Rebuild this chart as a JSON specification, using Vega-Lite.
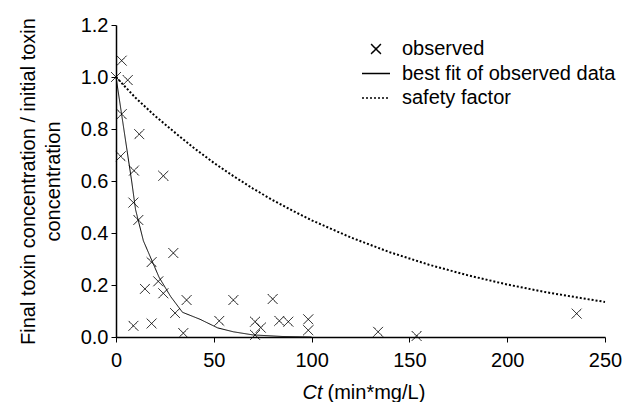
{
  "$schema": "https://vega.github.io/schema/vega-lite/v6.json",
  "width": 489,
  "height": 312,
  "autosize": {"type": "none"},
  "padding": {"left": 116, "top": 25, "right": 31, "bottom": 65},
  "background": "white",
  "config": {
    "view": {"stroke": null},
    "font": "Liberation Sans",
    "axis": {
      "grid": false,
      "domainColor": "black",
      "domainWidth": 1.5,
      "tickColor": "black",
      "tickSize": 5,
      "tickWidth": 1,
      "labelFont": "Liberation Sans",
      "labelFontSize": 20,
      "labelColor": "black",
      "titleFont": "Liberation Sans",
      "titleFontSize": 20,
      "titleFontWeight": "normal",
      "titleColor": "black"
    },
    "legend": {
      "orient": "none",
      "legendX": 250,
      "legendY": 14,
      "padding": 0,
      "labelFont": "Liberation Sans",
      "labelFontSize": 20,
      "labelColor": "black",
      "labelLimit": 0,
      "labelOffset": 16,
      "rowPadding": 4.5,
      "symbolSize": 196,
      "symbolStrokeColor": "black",
      "symbolFillColor": "transparent",
      "symbolStrokeWidth": 1.5
    }
  },
  "datasets": {
    "obs": [
      {"ct": 2.9, "ratio": 1.063, "series": "observed"},
      {"ct": 0, "ratio": 1.0, "series": "observed"},
      {"ct": 6, "ratio": 0.988, "series": "observed"},
      {"ct": 2.9, "ratio": 0.857, "series": "observed"},
      {"ct": 11.9, "ratio": 0.78, "series": "observed"},
      {"ct": 2.4, "ratio": 0.695, "series": "observed"},
      {"ct": 9.2, "ratio": 0.64, "series": "observed"},
      {"ct": 24.2, "ratio": 0.62, "series": "observed"},
      {"ct": 8.9, "ratio": 0.517, "series": "observed"},
      {"ct": 11.4, "ratio": 0.45, "series": "observed"},
      {"ct": 18.2, "ratio": 0.288, "series": "observed"},
      {"ct": 29.3, "ratio": 0.323, "series": "observed"},
      {"ct": 14.8, "ratio": 0.185, "series": "observed"},
      {"ct": 21.6, "ratio": 0.214, "series": "observed"},
      {"ct": 24.2, "ratio": 0.168, "series": "observed"},
      {"ct": 30.2, "ratio": 0.092, "series": "observed"},
      {"ct": 8.9, "ratio": 0.043, "series": "observed"},
      {"ct": 18.2, "ratio": 0.052, "series": "observed"},
      {"ct": 34.4, "ratio": 0.015, "series": "observed"},
      {"ct": 36.1, "ratio": 0.142, "series": "observed"},
      {"ct": 60, "ratio": 0.142, "series": "observed"},
      {"ct": 52.8, "ratio": 0.062, "series": "observed"},
      {"ct": 80.1, "ratio": 0.146, "series": "observed"},
      {"ct": 71.1, "ratio": 0.059, "series": "observed"},
      {"ct": 74, "ratio": 0.036, "series": "observed"},
      {"ct": 71.1, "ratio": 0.008, "series": "observed"},
      {"ct": 83.5, "ratio": 0.062, "series": "observed"},
      {"ct": 88.1, "ratio": 0.059, "series": "observed"},
      {"ct": 98.3, "ratio": 0.068, "series": "observed"},
      {"ct": 98.3, "ratio": 0.026, "series": "observed"},
      {"ct": 134, "ratio": 0.02, "series": "observed"},
      {"ct": 153.7, "ratio": 0.004, "series": "observed"},
      {"ct": 235.5, "ratio": 0.09, "series": "observed"}
    ],
    "fit": [
      {"ct": 0, "ratio": 1.0, "series": "best fit of observed data"},
      {"ct": 3, "ratio": 0.85, "series": "best fit of observed data"},
      {"ct": 6, "ratio": 0.7, "series": "best fit of observed data"},
      {"ct": 8, "ratio": 0.6, "series": "best fit of observed data"},
      {"ct": 10, "ratio": 0.49, "series": "best fit of observed data"},
      {"ct": 14, "ratio": 0.37, "series": "best fit of observed data"},
      {"ct": 18, "ratio": 0.3, "series": "best fit of observed data"},
      {"ct": 22, "ratio": 0.23, "series": "best fit of observed data"},
      {"ct": 28, "ratio": 0.155, "series": "best fit of observed data"},
      {"ct": 34, "ratio": 0.095, "series": "best fit of observed data"},
      {"ct": 43, "ratio": 0.068, "series": "best fit of observed data"},
      {"ct": 52, "ratio": 0.035, "series": "best fit of observed data"},
      {"ct": 60, "ratio": 0.02, "series": "best fit of observed data"},
      {"ct": 70, "ratio": 0.008, "series": "best fit of observed data"},
      {"ct": 85, "ratio": 0.002, "series": "best fit of observed data"},
      {"ct": 100, "ratio": 0.0, "series": "best fit of observed data"}
    ],
    "safety": [
      {"ct": 0, "ratio": 1.0, "series": "safety factor"},
      {"ct": 10, "ratio": 0.92, "series": "safety factor"},
      {"ct": 20, "ratio": 0.85, "series": "safety factor"},
      {"ct": 30, "ratio": 0.787, "series": "safety factor"},
      {"ct": 40, "ratio": 0.726, "series": "safety factor"},
      {"ct": 50, "ratio": 0.67, "series": "safety factor"},
      {"ct": 60, "ratio": 0.619, "series": "safety factor"},
      {"ct": 70, "ratio": 0.571, "series": "safety factor"},
      {"ct": 80, "ratio": 0.527, "series": "safety factor"},
      {"ct": 90, "ratio": 0.487, "series": "safety factor"},
      {"ct": 100, "ratio": 0.449, "series": "safety factor"},
      {"ct": 120, "ratio": 0.383, "series": "safety factor"},
      {"ct": 140, "ratio": 0.326, "series": "safety factor"},
      {"ct": 160, "ratio": 0.278, "series": "safety factor"},
      {"ct": 180, "ratio": 0.237, "series": "safety factor"},
      {"ct": 200, "ratio": 0.202, "series": "safety factor"},
      {"ct": 220, "ratio": 0.172, "series": "safety factor"},
      {"ct": 240, "ratio": 0.147, "series": "safety factor"},
      {"ct": 250, "ratio": 0.135, "series": "safety factor"}
    ]
  },
  "resolve": {"axis": {"x": "independent"}},
  "layer": [
    {
      "data": {"name": "safety"},
      "mark": {"type": "line", "color": "black", "strokeWidth": 2},
      "encoding": {
        "x": {
          "field": "ct", "type": "quantitative",
          "scale": {"domain": [0, 250], "nice": false, "zero": true},
          "axis": {
            "orient": "bottom",
            "values": [0, 50, 100, 150, 200, 250],
            "labelPadding": 8,
            "labelFlush": false,
            "title": "Ct",
            "titleFontStyle": "italic",
            "titleAnchor": null,
            "titleAlign": "left",
            "titleBaseline": "middle",
            "titleX": 186,
            "titleY": 55
          }
        },
        "y": {
          "field": "ratio", "type": "quantitative",
          "scale": {"domain": [0, 1.2], "nice": false},
          "axis": {
            "values": [0, 0.2, 0.4, 0.6, 0.8, 1.0, 1.2],
            "format": ".1f",
            "labelPadding": 3,
            "titlePadding": 17,
            "titleLineHeight": 25,
            "title": ["Final toxin concentration / initial toxin", "concentration"]
          }
        },
        "strokeDash": {
          "field": "series", "type": "nominal",
          "scale": {
            "domain": ["observed", "best fit of observed data", "safety factor"],
            "range": [[1, 0], [1, 0], [2, 2]]
          },
          "legend": {"title": null}
        }
      }
    },
    {
      "data": {"name": "fit"},
      "mark": {"type": "line", "color": "black", "strokeWidth": 1},
      "encoding": {
        "x": {
          "field": "ct", "type": "quantitative",
          "scale": {"domain": [0, 250], "nice": false},
          "axis": {
            "orient": "bottom",
            "values": [0, 50, 100, 150, 200, 250],
            "labels": false,
            "ticks": false,
            "domain": false,
            "title": "(min*mg/L)",
            "titleAnchor": null,
            "titleAlign": "left",
            "titleBaseline": "middle",
            "titleX": 211,
            "titleY": 55
          }
        },
        "y": {
          "field": "ratio", "type": "quantitative",
          "scale": {"domain": [0, 1.2], "nice": false},
          "axis": {
            "values": [0, 0.2, 0.4, 0.6, 0.8, 1.0, 1.2],
            "format": ".1f",
            "labelPadding": 3,
            "titlePadding": 17,
            "titleLineHeight": 25,
            "title": ["Final toxin concentration / initial toxin", "concentration"]
          }
        },
        "strokeDash": {
          "field": "series", "type": "nominal",
          "scale": {
            "domain": ["observed", "best fit of observed data", "safety factor"],
            "range": [[1, 0], [1, 0], [2, 2]]
          },
          "legend": {"title": null}
        }
      }
    },
    {
      "data": {"name": "obs"},
      "mark": {"type": "point", "filled": false, "color": "black", "size": 196, "strokeWidth": 1, "opacity": 1},
      "encoding": {
        "x": {
          "field": "ct", "type": "quantitative",
          "scale": {"domain": [0, 250], "nice": false},
          "axis": null
        },
        "y": {
          "field": "ratio", "type": "quantitative",
          "scale": {"domain": [0, 1.2], "nice": false},
          "axis": {
            "values": [0, 0.2, 0.4, 0.6, 0.8, 1.0, 1.2],
            "format": ".1f",
            "labelPadding": 3,
            "titlePadding": 17,
            "titleLineHeight": 25,
            "title": ["Final toxin concentration / initial toxin", "concentration"]
          }
        },
        "shape": {
          "field": "series", "type": "nominal",
          "scale": {
            "domain": ["observed", "best fit of observed data", "safety factor"],
            "range": ["M-0.7,-0.7L0.7,0.7M0.7,-0.7L-0.7,0.7", "M-2,0L2,0", "M-2,0L2,0"]
          },
          "legend": {"title": null}
        },
        "strokeDash": {
          "field": "series", "type": "nominal",
          "scale": {
            "domain": ["observed", "best fit of observed data", "safety factor"],
            "range": [[1, 0], [1, 0], [2, 2]]
          },
          "legend": {"title": null}
        }
      }
    }
  ]
}
